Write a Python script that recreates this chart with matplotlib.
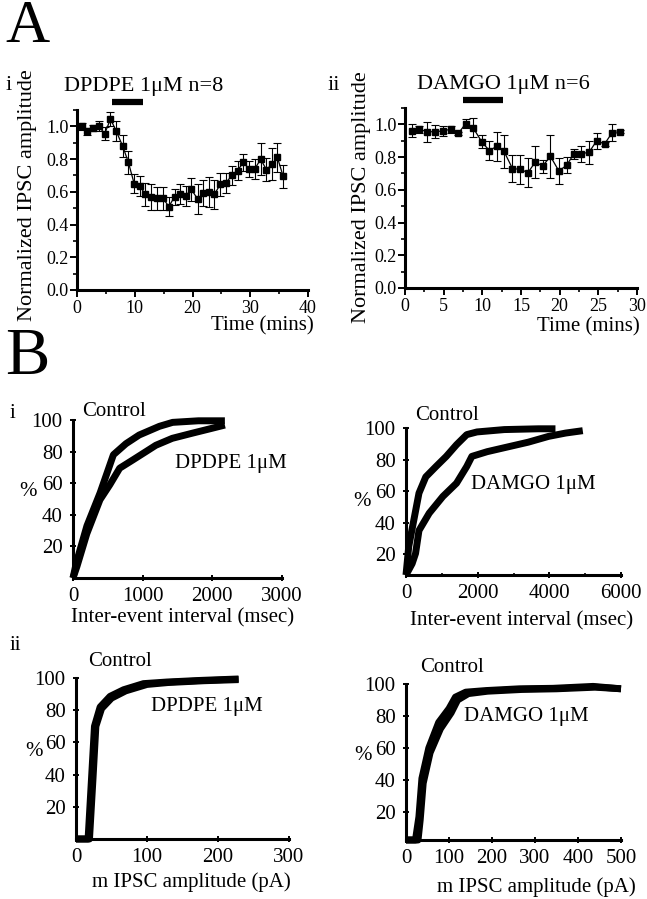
import numpy as np
import matplotlib
matplotlib.use("Agg")
import matplotlib.pyplot as plt
from matplotlib.ticker import MultipleLocator, FormatStrFormatter

plt.rcParams['font.family'] = ['Liberation Serif', 'DejaVu Serif']

# ---- panel A data (time course, mean +/- sem) ----
dpdpe_t = [0.8, 1.8, 2.8, 3.8, 4.8, 5.8, 6.8, 7.9, 8.9, 9.9, 10.9, 11.8, 12.9, 13.9, 14.9, 15.9, 16.9, 17.8,
           18.8, 19.8, 20.9, 21.9, 22.8, 23.8, 24.8, 25.8, 26.8, 27.8, 28.8, 29.8, 30.8, 31.8, 32.8, 33.8, 34.7, 35.7]
dpdpe_y = [1.00, 0.97, 0.99, 1.00, 0.955, 1.045, 0.97, 0.88, 0.78, 0.65, 0.635, 0.585, 0.57, 0.56, 0.56, 0.51,
           0.57, 0.585, 0.575, 0.615, 0.555, 0.595, 0.60, 0.585, 0.645, 0.655, 0.70, 0.73, 0.78, 0.74, 0.74,
           0.80, 0.735, 0.77, 0.81, 0.695]
dpdpe_err = [0.02, 0.02, 0.02, 0.03, 0.04, 0.04, 0.06, 0.07, 0.07, 0.06, 0.06, 0.07, 0.08, 0.07, 0.07, 0.06,
             0.05, 0.06, 0.06, 0.07, 0.09, 0.08, 0.09, 0.09, 0.07, 0.06, 0.06, 0.06, 0.05, 0.05, 0.06, 0.10,
             0.07, 0.10, 0.09, 0.07]

damgo_t = [0.86, 1.85, 2.9, 3.9, 4.9, 5.9, 6.9, 7.85, 8.8, 9.9, 10.9, 11.85, 12.8, 13.9, 14.9, 15.9, 16.85,
           17.8, 18.8, 19.9, 20.9, 21.85, 22.8, 23.8, 24.8, 25.8, 26.8, 27.8]
damgo_y = [0.96, 0.97, 0.955, 0.955, 0.96, 0.97, 0.945, 1.005, 0.98, 0.895, 0.84, 0.865, 0.835, 0.73, 0.725,
           0.705, 0.77, 0.745, 0.805, 0.715, 0.75, 0.82, 0.82, 0.83, 0.90, 0.88, 0.95, 0.955]
damgo_err = [0.04, 0.02, 0.06, 0.04, 0.03, 0.02, 0.01, 0.03, 0.06, 0.04, 0.06, 0.09, 0.10, 0.08, 0.09, 0.09,
             0.10, 0.04, 0.13, 0.08, 0.05, 0.03, 0.05, 0.07, 0.05, 0.01, 0.05, 0.01]

dpdpe_bar = [6.0, 11.5]
damgo_bar = [7.5, 12.7]

# ---- panel B data (cumulative distributions) ----
iei_ctrl_d_x = [0, 50, 200, 390, 580, 760, 950, 1240, 1430, 1800, 2180]
iei_ctrl_d_y = [0, 10, 33, 54, 78, 85, 90.5, 96, 98.5, 99.5, 99.5]
iei_dpdpe_x = [0, 57, 198, 387, 528, 670, 858, 1047, 1189, 1425, 1708, 1990, 2180]
iei_dpdpe_y = [0, 7.4, 28, 49.5, 59, 69.5, 74.7, 80, 84, 88.4, 91.6, 94.7, 96.8]

iei_ctrl_m_x = [0, 76, 219, 362, 552, 838, 1124, 1410, 1695, 1981, 2743, 3695, 4171]
iei_ctrl_m_y = [6.8, 24.8, 41.7, 58.7, 69, 75.6, 82, 89.4, 95.8, 97.5, 99, 99.5, 99.5]
iei_damgo_x = [0, 171, 267, 362, 648, 1029, 1410, 1695, 1838, 2267, 2838, 3410, 3981, 4457, 4933]
iei_damgo_y = [6.8, 14, 20.5, 35, 46, 56.6, 65, 75.6, 82, 85, 88, 91, 94.7, 96.8, 98.3]

amp_ctrl_d_x = [0, 17, 22, 26, 34, 48, 67, 95, 128, 175, 229]
amp_ctrl_d_y = [0, 0, 38.7, 70, 82, 88.6, 92.7, 96.5, 97.5, 98.5, 99.4]
amp_dpdpe_x = [0, 19, 24, 28, 36, 50, 70, 100, 130, 180, 229]
amp_dpdpe_y = [0, 0, 38, 70, 81, 87.5, 92, 96, 97.2, 98.3, 99]

amp_ctrl_m_x = [0, 22, 30, 37, 53, 76, 100, 115, 139, 186, 264, 342, 435, 500]
amp_ctrl_m_y = [2.5, 2.5, 17, 41, 60, 76, 84.6, 91.8, 94.9, 95.9, 97, 97.3, 98.5, 97]
amp_damgo_x = [0, 28, 33, 40, 56, 80, 105, 120, 145, 190, 270, 350, 440, 500]
amp_damgo_y = [2.5, 2.5, 15, 38, 57, 72, 82, 90, 94, 95.5, 96.6, 97, 98, 97]

W, H = 647, 899
fig = plt.figure(figsize=(W / 100, H / 100), dpi=100)


def box(l, t, r, b):
    return [l / W, 1 - b / H, (r - l) / W, (b - t) / H]


def ftext(x, y, s, **kw):
    kw.setdefault('ha', 'center')
    kw.setdefault('va', 'center')
    fig.text(x / W, 1 - y / H, s, **kw)


def style(ax, direction):
    for s in ['top', 'right']:
        ax.spines[s].set_visible(False)
    for s in ['left', 'bottom']:
        ax.spines[s].set_linewidth(2.2)
    ax.tick_params(which='major', direction=direction, length=5, width=1.4, labelsize=14, pad=2)
    ax.tick_params(which='minor', direction=direction, length=3, width=1.2)


def time_panel(rect, t, y, err, bar, xmax, xmaj):
    ax = fig.add_axes(rect)
    ax.errorbar(t, y, yerr=err, fmt='s-', color='black', ms=4.5, lw=0.9,
                elinewidth=0.8, capsize=3, capthick=0.8)
    ax.plot(bar, [1.15, 1.15], color='black', lw=4.5, solid_capstyle='butt', clip_on=False)
    ax.set_xlim(0, xmax)
    ax.set_ylim(0, 1.1)
    ax.xaxis.set_major_locator(MultipleLocator(xmaj))
    ax.xaxis.set_minor_locator(MultipleLocator(xmaj / 2))
    ax.yaxis.set_major_locator(MultipleLocator(0.2))
    ax.yaxis.set_minor_locator(MultipleLocator(0.1))
    ax.yaxis.set_major_formatter(FormatStrFormatter('%.1f'))
    style(ax, 'out')
    ax.tick_params(axis='both', labelsize=13)
    ax.tick_params(axis='y', pad=1)
    return ax


def cdf_panel(rect, curves, xmax, xmaj, xminor, ymin):
    ax = fig.add_axes(rect)
    for cx, cy in curves:
        ax.plot(cx, cy, color='black', lw=5, solid_joinstyle='round', solid_capstyle='butt', clip_on=False)
    ax.set_xlim(0, xmax)
    ax.set_ylim(ymin, 100)
    ax.set_xticks(np.arange(0, xmax + 1, xmaj))
    ax.xaxis.set_minor_locator(MultipleLocator(xminor))
    ax.set_yticks([20, 40, 60, 80, 100])
    style(ax, 'inout')
    ax.tick_params(axis='both', labelsize=15)
    ax.tick_params(axis='y', pad=5)
    ax.tick_params(axis='x', pad=4)
    return ax


# ---- A ----
time_panel(box(77, 110, 308, 290), dpdpe_t, dpdpe_y, dpdpe_err, dpdpe_bar, 40, 10)
time_panel(box(405, 108, 637, 288), damgo_t, damgo_y, damgo_err, damgo_bar, 30, 5)

ftext(27, 27, 'A', fontsize=44)
ftext(9, 86, 'i', fontsize=16)
ftext(144, 86, 'DPDPE 1\u03bcM n=8', fontsize=16)
ftext(334, 86, 'ii', fontsize=16)
ftext(503, 85, 'DAMGO 1\u03bcM n=6', fontsize=16)
ftext(28, 195, 'Normalized IPSC amplitude', fontsize=16, rotation=90)
ftext(361, 197, 'Normalized IPSC amplitude', fontsize=16, rotation=90)
ftext(262, 326, 'Time (mins)', fontsize=15)
ftext(588, 327, 'Time (mins)', fontsize=15)

# ---- B ----
cdf_panel(box(73, 420, 282, 578), [(iei_ctrl_d_x, iei_ctrl_d_y), (iei_dpdpe_x, iei_dpdpe_y)],
          3000, 1000, 1000, 0)
cdf_panel(box(406, 428, 621, 575), [(iei_ctrl_m_x, iei_ctrl_m_y), (iei_damgo_x, iei_damgo_y)],
          6000, 2000, 1000, 6.8)
cdf_panel(box(76, 678, 289, 839), [(amp_ctrl_d_x, amp_ctrl_d_y), (amp_dpdpe_x, amp_dpdpe_y)],
          300, 100, 100, 0)
cdf_panel(box(406, 684, 621, 840), [(amp_ctrl_m_x, amp_ctrl_m_y), (amp_damgo_x, amp_damgo_y)],
          500, 100, 100, 2.5)

ftext(27, 357, 'B', fontsize=48)
ftext(12, 414, 'i', fontsize=15)
ftext(114, 412, 'Control', fontsize=15)
ftext(231, 463, 'DPDPE 1\u03bcM', fontsize=15)
ftext(28, 492, '%', fontsize=15)
ftext(183, 618, 'Inter-event interval (msec)', fontsize=15)

ftext(447, 416, 'Control', fontsize=15)
ftext(533, 485, 'DAMGO 1\u03bcM', fontsize=15)
ftext(362, 502, '%', fontsize=15)
ftext(522, 621, 'Inter-event interval (msec)', fontsize=15)

ftext(15, 645, 'ii', fontsize=15)
ftext(120, 662, 'Control', fontsize=15)
ftext(207, 707, 'DPDPE 1\u03bcM', fontsize=15)
ftext(34, 752, '%', fontsize=15)
ftext(191, 882, 'm IPSC amplitude (pA)', fontsize=15)

ftext(452, 667, 'Control', fontsize=15)
ftext(526, 717, 'DAMGO 1\u03bcM', fontsize=15)
ftext(363, 756, '%', fontsize=15)
ftext(536, 887, 'm IPSC amplitude (pA)', fontsize=15)

fig.savefig('out.png', dpi=100, facecolor='white')
